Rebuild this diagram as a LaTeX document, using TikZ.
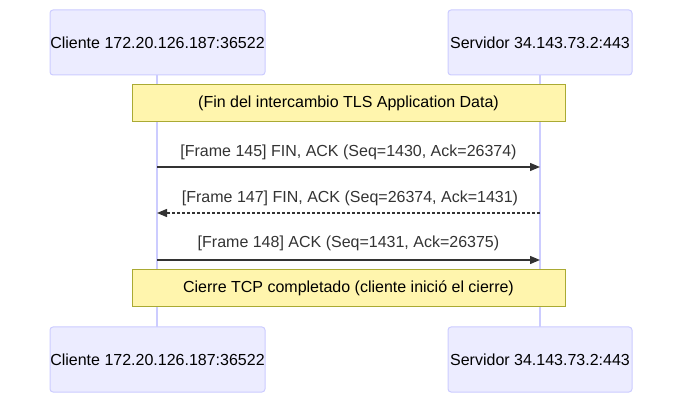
\documentclass[tikz,border=0pt]{standalone}
\usepackage{fontspec}
\setmainfont{Liberation Sans}
\usetikzlibrary{arrows.meta}
\definecolor{actfill}{HTML}{ECECFF}
\definecolor{actline}{HTML}{CCCCFF}
\definecolor{notefill}{HTML}{FFF5AD}
\definecolor{noteline}{HTML}{AAAA33}
\definecolor{msg}{HTML}{333333}
\begin{document}
\begin{tikzpicture}[x=1pt,y=-1pt,
  actor/.style={draw=actline,fill=actfill,line width=1pt,rounded corners=3pt,minimum height=65pt,inner sep=0pt,font=\fontsize{16}{19}\selectfont,text=black},
  note/.style={draw=noteline,fill=notefill,line width=1pt,minimum width=433pt,minimum height=37pt,inner sep=0pt,font=\fontsize{16}{19}\selectfont,text=black},
  life/.style={draw=actline,line width=1.5pt},
  msgline/.style={draw=msg,line width=1.3pt,-{Triangle[length=10pt,width=8pt]}},
  msglabel/.style={font=\fontsize{16}{19}\selectfont,text=msg,inner sep=0pt}
]
\useasboundingbox (0,0) rectangle (683,403);
% lifelines
\coordinate (ct) at (157,75);
\coordinate (cb) at (157,327);
\coordinate (st) at (540,75);
\coordinate (sb) at (540,327);
\draw[life] (ct) -- (cb);
\draw[life] (st) -- (sb);
% actors
\node[actor,minimum width=215pt] (c1) at (157.5,42.5) {Cliente 172.20.126.187:36522};
\node[actor,minimum width=184pt] (s1) at (540,42.5) {Servidor 34.143.73.2:443};
\node[actor,minimum width=215pt] (c2) at (157.5,359.5) {Cliente 172.20.126.187:36522};
\node[actor,minimum width=184pt] (s2) at (540,359.5) {Servidor 34.143.73.2:443};
% notes
\node[note] (n1) at (348.5,103.5) {(Fin del intercambio TLS Application Data)};
\node[note] (n2) at (348.5,288) {Cierre TCP completado (cliente inició el cierre)};
% messages
\coordinate (m1a) at (157,167); \coordinate (m1b) at (540,167);
\coordinate (m2a) at (540,213); \coordinate (m2b) at (157,213);
\coordinate (m3a) at (157,260); \coordinate (m3b) at (540,260);
\draw[msgline] (m1a) -- (m1b);
\draw[msgline,dash pattern=on 3pt off 2pt] (m2a) -- (m2b);
\draw[msgline] (m3a) -- (m3b);
\node[msglabel] (l1) at (348.5,152) {[Frame 145] FIN, ACK (Seq=1430, Ack=26374)};
\node[msglabel] (l2) at (350,198) {[Frame 147] FIN, ACK (Seq=26374, Ack=1431)};
\node[msglabel] (l3) at (348.5,243) {[Frame 148] ACK (Seq=1431, Ack=26375)};
\end{tikzpicture}
\end{document}
